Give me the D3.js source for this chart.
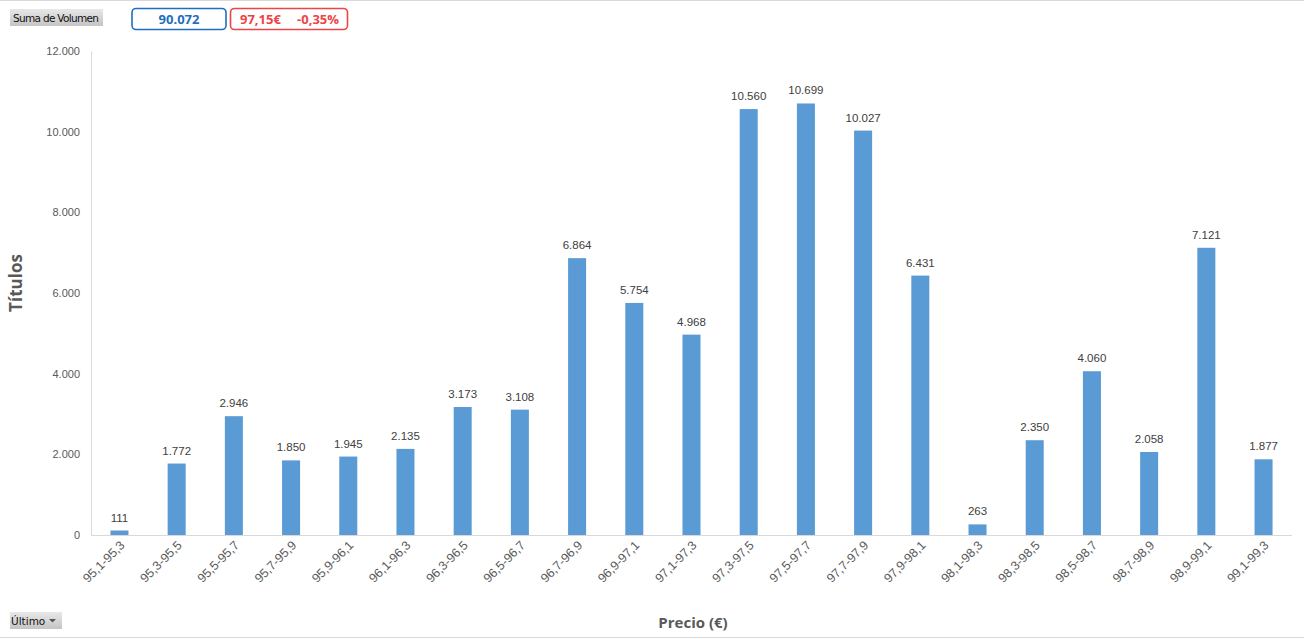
<!DOCTYPE html>
<html><head><meta charset="utf-8">
<script src="https://cdn.jsdelivr.net/npm/d3@7"></script>
<style>body{margin:0;background:#fff;}svg{display:block;}</style>
</head><body>
<script>
const categories = ["95,1-95,3","95,3-95,5","95,5-95,7","95,7-95,9","95,9-96,1","96,1-96,3","96,3-96,5","96,5-96,7","96,7-96,9","96,9-97,1","97,1-97,3","97,3-97,5","97,5-97,7","97,7-97,9","97,9-98,1","98,1-98,3","98,3-98,5","98,5-98,7","98,7-98,9","98,9-99,1","99,1-99,3"];
const values = [111,1772,2946,1850,1945,2135,3173,3108,6864,5754,4968,10560,10699,10027,6431,263,2350,4060,2058,7121,1877];
const yTicks = [0,2000,4000,6000,8000,10000,12000];
const totalText = "90.072";
const priceText = "97,15€";
const changeText = "-0,35%";

const W=1304,H=639;
const svg=d3.select("body").append("svg").attr("width",W).attr("height",H);
const fmt = v => d3.format(",")(v).replace(/,/g,".");
const m={l:91,r:12,t:51,b:104};
const x=d3.scaleBand().domain(categories).range([m.l,W-m.r]).paddingInner(0.685).paddingOuter(0.34);
const y=d3.scaleLinear().domain([0,12000]).range([H-m.b,m.t]);

// frame lines
svg.append("line").attr("x1",0).attr("x2",W).attr("y1",0.5).attr("y2",0.5).attr("stroke","#d9d9d9");
svg.append("line").attr("x1",0).attr("x2",W).attr("y1",637.5).attr("y2",637.5).attr("stroke","#d9d9d9");

// y axis
const ya=svg.append("g").attr("transform",`translate(${m.l},0)`).call(d3.axisLeft(y).tickValues(yTicks).tickSize(0).tickPadding(11).tickFormat(fmt));
ya.select(".domain").attr("stroke","#d9d9d9");
ya.selectAll("text").attr("fill","#595959").attr("font-family","Liberation Sans, Arial").attr("font-size","11px");

// bars
svg.selectAll("rect.bar").data(values).enter().append("rect").attr("class","bar")
  .attr("x",(d,i)=>x(categories[i])).attr("width",x.bandwidth())
  .attr("y",d=>y(d)).attr("height",d=>y(0)-y(d)).attr("fill","#5b9bd5");

// labels
svg.selectAll("text.lbl").data(values).enter().append("text").attr("class","lbl")
  .attr("x",(d,i)=>x(categories[i])+x.bandwidth()/2).attr("y",d=>y(d)-9)
  .attr("text-anchor","middle").attr("fill","#404040").attr("font-family","Liberation Sans, Arial").attr("font-size","11.5px").text(fmt);

// x axis
const xa=svg.append("g").attr("transform",`translate(0,${y(0)})`).call(d3.axisBottom(x).tickSize(0).tickPadding(0));
xa.select(".domain").attr("stroke","#d9d9d9").attr("d",`M${m.l},0.5H${W-m.r}`);
xa.selectAll("text").attr("fill","#595959").attr("font-family","Liberation Sans, Arial").attr("font-size","12.5px")
  .attr("text-anchor","end").attr("dy",0).attr("transform","translate(6,11) rotate(-45)");

// axis titles
svg.append("text").attr("transform","translate(22,283) rotate(-90)").attr("text-anchor","middle")
  .attr("font-family","Open Sans, sans-serif").attr("font-weight","bold").attr("font-size","17px").attr("fill","#595959").text("Títulos");
svg.append("text").attr("x",693).attr("y",628).attr("text-anchor","middle")
  .attr("font-family","Open Sans, sans-serif").attr("font-weight","bold").attr("font-size","15px").attr("fill","#595959").text("Precio (€)");

// buttons
const defs=svg.append("defs");
const g=defs.append("linearGradient").attr("id","btn").attr("x1",0).attr("x2",0).attr("y1",0).attr("y2",1);
g.append("stop").attr("offset","0%").attr("stop-color","#e8e8e8");
g.append("stop").attr("offset","100%").attr("stop-color","#c4c4c4");
svg.append("rect").attr("x",10).attr("y",9).attr("width",93).attr("height",17).attr("fill","url(#btn)");
svg.append("text").attr("x",13).attr("y",22).attr("font-family","DejaVu Sans, sans-serif").attr("font-size","10.5px").attr("fill","#111").attr("textLength",86).text("Suma de Volumen");
svg.append("rect").attr("x",10).attr("y",612).attr("width",52).attr("height",17).attr("fill","url(#btn)");
svg.append("text").attr("x",11).attr("y",625).attr("font-family","DejaVu Sans, sans-serif").attr("font-size","10.5px").attr("fill","#111").text("Último");
svg.append("path").attr("d","M49,619 l7,0 l-3.5,3.5z").attr("fill","#555");

// KPI boxes
svg.append("rect").attr("x",132).attr("y",8.5).attr("width",94).attr("height",21).attr("rx",4).attr("fill","#fff").attr("stroke","#1f6fbf").attr("stroke-width",1.6);
svg.append("text").attr("x",179).attr("y",24).attr("text-anchor","middle").attr("font-family","Open Sans, sans-serif").attr("font-weight","bold").attr("font-size","13px").attr("fill","#1f6fbf").text(totalText);
svg.append("rect").attr("x",230.5).attr("y",8.5).attr("width",117).attr("height",21).attr("rx",4).attr("fill","#fff").attr("stroke","#ee4444").attr("stroke-width",1.6);
svg.append("text").attr("x",240).attr("y",24).attr("font-family","Open Sans, sans-serif").attr("font-weight","bold").attr("font-size","13px").attr("fill","#ee4444").text(priceText);
svg.append("text").attr("x",339).attr("y",24).attr("text-anchor","end").attr("font-family","Open Sans, sans-serif").attr("font-weight","bold").attr("font-size","13px").attr("fill","#ee4444").text(changeText);
</script>
</body></html>
